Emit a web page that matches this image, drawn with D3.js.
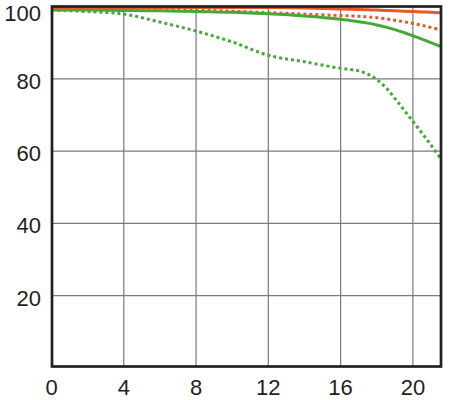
<!DOCTYPE html>
<html>
<head>
<meta charset="utf-8">
<script src="https://cdn.jsdelivr.net/npm/d3@7"></script>
<style>
  html, body { margin: 0; padding: 0; background: #fff; }
  svg { display: block; }
  text { font-family: "Liberation Sans", Arial, sans-serif; fill: #231f20; }
</style>
</head>
<body>
<svg id="chart" width="450" height="400"></svg>
<script>
// Image height positions (mm)
const positions = [0, 2, 4, 6, 8, 10, 12, 14, 16, 17, 17.5, 18, 18.5, 19, 19.5, 20, 20.5, 21, 21.5];
// MTF values (%)
const orangeSolid  = [99.7, 99.7, 99.7, 99.7, 99.7, 99.7, 99.7, 99.6, 99.3, 99.2, 99.1, 99.0, 98.9, 98.8, 98.7, 98.6, 98.5, 98.4, 98.3];
const orangeDotted = [99.5, 99.4, 99.3, 99.2, 99.0, 98.7, 98.3, 97.9, 97.5, 97.3, 97.1, 96.9, 96.6, 96.2, 95.8, 95.3, 94.8, 94.2, 93.6];
const greenSolid   = [99.0, 99.0, 98.9, 98.8, 98.6, 98.4, 98.0, 97.4, 96.5, 95.8, 95.4, 94.9, 94.3, 93.6, 92.8, 91.9, 91.0, 90.0, 89.0];
const greenDotted  = [99.0, 98.6, 97.9, 95.7, 93.2, 90.2, 86.5, 84.7, 82.9, 82.2, 81.3, 79.8, 77.6, 74.6, 71.4, 68.2, 65.0, 61.7, 58.2];

const xTicks = [0, 4, 8, 12, 16, 20];
const yTicks = [20, 40, 60, 80, 100];

const svg = d3.select("#chart");
const x = d3.scaleLinear().domain([0, 21.5]).range([51.5, 440]);
const y = d3.scaleLinear().domain([0, 100]).range([368, 6.5]);

const orange = "#e65a28";
const green = "#45a939";

// grid
const g = svg.append("g");
g.selectAll("line.vx").data(xTicks.filter(d => d > 0)).enter().append("line")
  .attr("x1", d => x(d)).attr("x2", d => x(d))
  .attr("y1", y(100)).attr("y2", 366.5)
  .attr("stroke", "#7a7a7a").attr("stroke-width", 1.2);
g.selectAll("line.hy").data(yTicks.filter(d => d < 100)).enter().append("line")
  .attr("x1", 52).attr("x2", 441)
  .attr("y1", d => y(d)).attr("y2", d => y(d))
  .attr("stroke", "#7a7a7a").attr("stroke-width", 1.2);

// lines
const line = d3.line().x((d, i) => x(positions[i])).y(d => y(d)).curve(d3.curveCatmullRom.alpha(0.5));
const series = [
  { v: greenDotted, c: green, dash: "3,3" },
  { v: orangeDotted, c: orange, dash: "3,3" },
  { v: greenSolid, c: green, dash: null },
  { v: orangeSolid, c: orange, dash: null }
];
series.forEach(s => {
  svg.append("path").datum(s.v)
    .attr("d", line)
    .attr("fill", "none")
    .attr("stroke", s.c)
    .attr("stroke-width", 3)
    .attr("stroke-dasharray", s.dash);
});

// frame
svg.append("rect")
  .attr("x", 52).attr("y", 6.5)
  .attr("width", 441 - 52).attr("height", 366.5 - 6.5)
  .attr("fill", "none").attr("stroke", "#231f20").attr("stroke-width", 2.7);

// axis labels
svg.selectAll("text.yl").data(yTicks).enter().append("text")
  .attr("x", 41)
  .attr("y", d => d === 100 ? 20.5 : y(d) + 10)
  .attr("text-anchor", "end")
  .attr("font-size", 22)
  .text(d => d);
svg.selectAll("text.xl").data(xTicks).enter().append("text")
  .attr("x", d => x(d)).attr("y", 395)
  .attr("text-anchor", "middle")
  .attr("font-size", 22)
  .text(d => d);
</script>
</body>
</html>
